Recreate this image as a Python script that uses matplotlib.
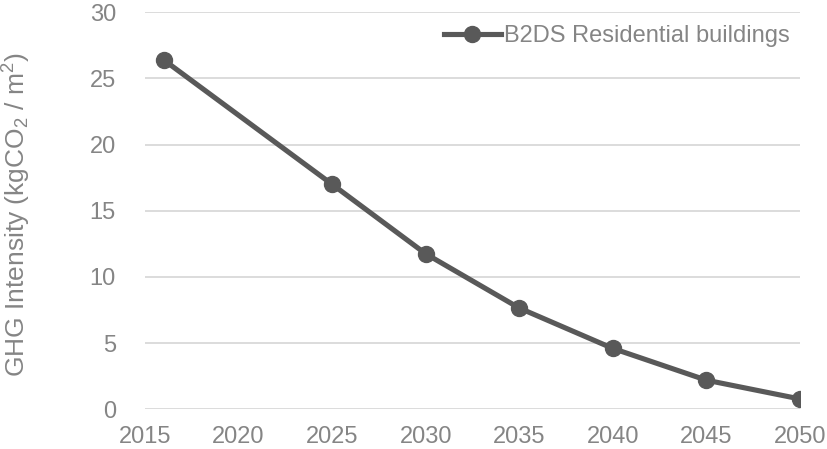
import numpy as np
import matplotlib
matplotlib.use("Agg")
import matplotlib.pyplot as plt

# Values
years = [2016, 2025, 2030, 2035, 2040, 2045, 2050]
intensity = [26.4, 17.0, 11.75, 7.65, 4.6, 2.2, 0.78]
series_name = "B2DS Residential buildings"
x_ticks = [2015, 2020, 2025, 2030, 2035, 2040, 2045, 2050]
y_ticks = [0, 5, 10, 15, 20, 25, 30]

plt.rcParams["font.family"] = ["Liberation Sans", "DejaVu Sans"]
plt.rcParams["mathtext.fontset"] = "custom"
plt.rcParams["mathtext.rm"] = "Liberation Sans"
plt.rcParams["mathtext.default"] = "regular"

text_color = "#858585"
line_color = "#595959"
grid_color = "#d9d9d9"
fs = 17

fig = plt.figure(figsize=(8.28, 4.49), dpi=100)
ax = fig.add_axes([145 / 828, 1 - 409.3 / 449, 655 / 828, 397 / 449])

ax.plot(years, intensity, color=line_color, linewidth=3.7, marker="o",
        markersize=11.5, label=series_name, zorder=3)

ax.set_xlim(2015, 2050)
ax.set_ylim(0, 30)
ax.set_xticks(x_ticks)
ax.set_yticks(y_ticks)

# Excel-like look: only horizontal grid, no spines or tick marks
for s in ax.spines.values():
    s.set_visible(False)
ax.yaxis.grid(True, color=grid_color, linewidth=1.3)
ax.set_axisbelow(True)
ax.tick_params(axis="both", length=0, labelsize=fs, labelcolor=text_color)
ax.tick_params(axis="y", pad=21)
ax.tick_params(axis="x", pad=12)

fig.text(17 / 828, 1 - 215 / 449, "GHG Intensity (kgCO$_2$ / m$^2$)",
         rotation=90, ha="center", va="center", fontsize=19, color=text_color)

leg = ax.legend(loc="center right",
                bbox_to_anchor=((790 - 145) / 655, (409.3 - 36) / 397),
                frameon=False, fontsize=fs, handlelength=2.4,
                handletextpad=0.15, borderaxespad=0, borderpad=0)
for t in leg.get_texts():
    t.set_color(text_color)

fig.savefig("out.png", dpi=100)
